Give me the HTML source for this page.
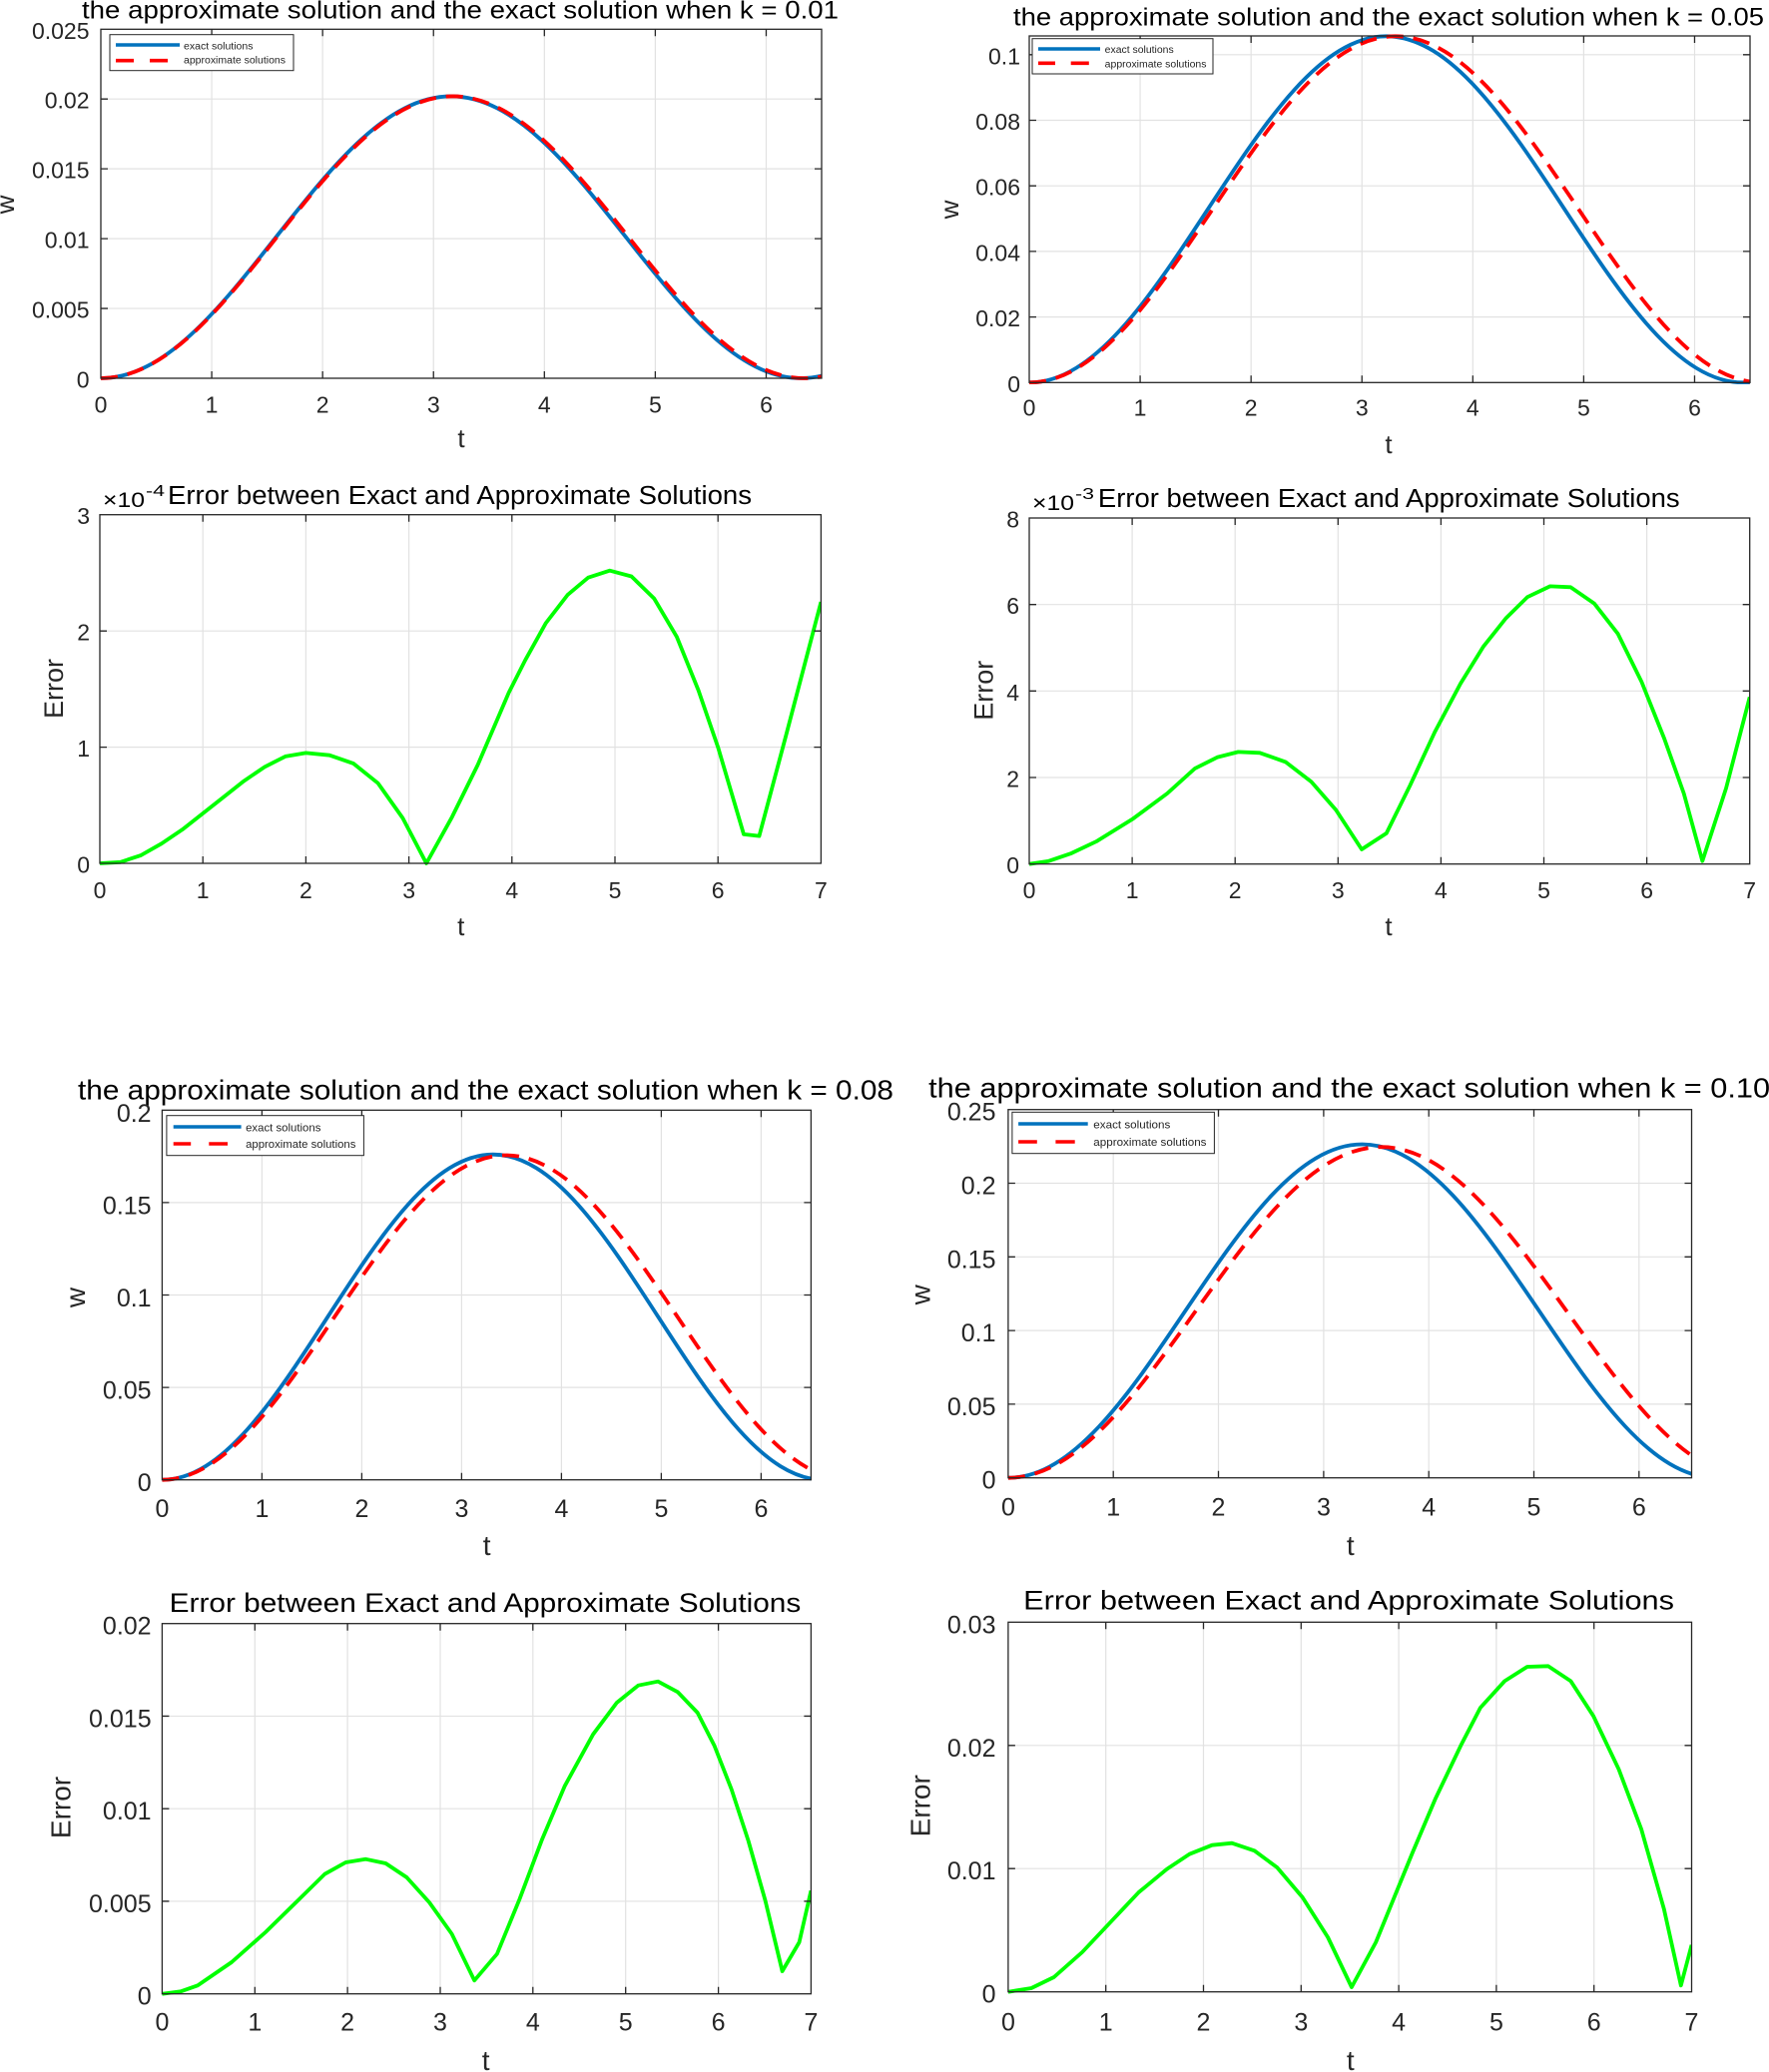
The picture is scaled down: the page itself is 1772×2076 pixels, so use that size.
<!DOCTYPE html>
<html><head><meta charset="utf-8"><style>
html,body{margin:0;padding:0;background:#fff}
svg{display:block}
text{font-family:"Liberation Sans",Arial,sans-serif;fill:#262626}
.ti{fill:#000}
.t22{font-size:23px}
.t24{font-size:25px}
.ax{fill:none;stroke:#262626;stroke-width:1.3}
.gr{fill:none;stroke:#e2e2e2;stroke-width:1.2}
.tk{fill:none;stroke:#262626;stroke-width:1.3}
.bl{fill:none;stroke:#0072bd;stroke-width:3.8;stroke-linejoin:round}
.rd{fill:none;stroke:#ff0000;stroke-width:3.8;stroke-dasharray:17 10}
.gn{fill:none;stroke:#00ff00;stroke-width:3.8;stroke-linejoin:round}
.lg{fill:#fff;stroke:#262626;stroke-width:1}
</style></head><body>
<svg width="1772" height="2076" viewBox="0 0 1772 2076" xmlns="http://www.w3.org/2000/svg">
<defs>
<clipPath id="cA"><rect x="101" y="27" width="722" height="354"/></clipPath>
<clipPath id="cB"><rect x="1031" y="34" width="722" height="351"/></clipPath>
<clipPath id="cC"><rect x="100" y="513" width="723" height="354"/></clipPath>
<clipPath id="cD"><rect x="1031" y="517" width="722" height="351"/></clipPath>
<clipPath id="cE"><rect x="162.4" y="1110" width="650" height="375"/></clipPath>
<clipPath id="cF"><rect x="1009.9" y="1109" width="684.6" height="374"/></clipPath>
<clipPath id="cG"><rect x="162.4" y="1624" width="650" height="376"/></clipPath>
<clipPath id="cH"><rect x="1009.9" y="1623" width="684.6" height="375"/></clipPath>
</defs>
<rect width="1772" height="2076" fill="#fff"/>

<!-- ============ PLOT A ============ -->
<path class="gr" d="M212.08,29.3V379M323.16,29.3V379M434.24,29.3V379M545.32,29.3V379M656.4,29.3V379M767.48,29.3V379M101,309.05H823M101,239.1H823M101,169.15H823M101,99.2H823"/>
<g clip-path="url(#cA)">
<path class="bl" d="M101,379 C164.47,379 219.17,310.1 276.36,237.72 C333.56,165.34 388.26,96.44 451.73,96.44 C515.2,96.44 569.9,165.34 627.09,237.72 C684.29,310.1 738.99,379 802.46,379 C865.92,379 920.63,310.1 977.82,237.72"/>
<path class="rd" d="M101,379 C164.79,379 219.76,310.1 277.24,237.72 C334.72,165.34 389.7,96.44 453.49,96.44 C517.27,96.44 572.25,165.34 629.73,237.72 C687.21,310.1 742.19,379 805.98,379 C869.76,379 924.74,310.1 982.22,237.72"/>
</g>
<rect class="ax" x="101" y="29.3" width="722" height="349.7"/>
<path class="tk" d="M212.08,379v-7M323.16,379v-7M434.24,379v-7M545.32,379v-7M656.4,379v-7M767.48,379v-7M212.08,29.3v7M323.16,29.3v7M434.24,29.3v7M545.32,29.3v7M656.4,29.3v7M767.48,29.3v7M101,309.05h7M101,239.1h7M101,169.15h7M101,99.2h7M823,309.05h-7M823,239.1h-7M823,169.15h-7M823,99.2h-7"/>
<text class="ti" x="82" y="18.3" font-size="25" textLength="758" lengthAdjust="spacingAndGlyphs">the approximate solution and the exact solution when k = 0.01</text>
<g class="t22" text-anchor="end">
<text x="89.5" y="388.5">0</text><text x="89.5" y="318.6">0.005</text><text x="89.5" y="248.6">0.01</text><text x="89.5" y="178.7">0.015</text><text x="89.5" y="108.7">0.02</text><text x="89.5" y="38.8">0.025</text>
</g>
<g class="t22" text-anchor="middle">
<text x="101" y="413.3">0</text><text x="212.08" y="413.3">1</text><text x="323.16" y="413.3">2</text><text x="434.24" y="413.3">3</text><text x="545.32" y="413.3">4</text><text x="656.4" y="413.3">5</text><text x="767.48" y="413.3">6</text>
</g>
<text x="462" y="448" font-size="26" text-anchor="middle">t</text>
<text transform="translate(14,205) rotate(-90)" font-size="26" text-anchor="middle">w</text>
<rect class="lg" x="110" y="34.7" width="184" height="36"/>
<path d="M116,45H180" stroke="#0072bd" stroke-width="3.6"/>
<path d="M116,60.7H134M150,60.7H168" stroke="#ff0000" stroke-width="3.6"/>
<text x="184" y="49.3" font-size="10" textLength="69.5" lengthAdjust="spacingAndGlyphs">exact solutions</text>
<text x="184" y="63.5" font-size="10" textLength="102" lengthAdjust="spacingAndGlyphs">approximate solutions</text>

<!-- ============ PLOT B ============ -->
<path class="gr" d="M1142.08,36V383.3M1253.16,36V383.3M1364.24,36V383.3M1475.32,36V383.3M1586.4,36V383.3M1697.48,36V383.3M1031,317.6H1753M1031,251.9H1753M1031,186.2H1753M1031,120.5H1753M1031,54.8H1753"/>
<g clip-path="url(#cB)">
<path class="bl" d="M1031,383.3 C1095.7,383.3 1151.47,298.68 1209.77,209.8 C1268.08,120.92 1323.85,36.3 1388.55,36.3 C1453.25,36.3 1509.02,120.92 1567.32,209.8 C1625.63,298.68 1681.39,383.3 1746.09,383.3 C1810.79,383.3 1866.56,298.68 1924.86,209.8"/>
<path class="rd" d="M1031,383.3 C1097.4,383.3 1154.63,298.68 1214.47,209.8 C1274.31,120.92 1331.54,36.3 1397.94,36.3 C1464.34,36.3 1521.57,120.92 1581.41,209.8 C1641.24,298.68 1698.48,383.3 1764.88,383.3"/>
</g>
<rect class="ax" x="1031" y="36" width="722" height="347.3"/>
<path class="tk" d="M1142.08,383.3v-7M1253.16,383.3v-7M1364.24,383.3v-7M1475.32,383.3v-7M1586.4,383.3v-7M1697.48,383.3v-7M1142.08,36v7M1253.16,36v7M1364.24,36v7M1475.32,36v7M1586.4,36v7M1697.48,36v7M1031,317.6h7M1031,251.9h7M1031,186.2h7M1031,120.5h7M1031,54.8h7M1753,317.6h-7M1753,251.9h-7M1753,186.2h-7M1753,120.5h-7M1753,54.8h-7"/>
<text class="ti" x="1015" y="25.7" font-size="25" textLength="752" lengthAdjust="spacingAndGlyphs">the approximate solution and the exact solution when k = 0.05</text>
<g class="t22" text-anchor="end">
<text x="1022" y="392.8">0</text><text x="1022" y="327.1">0.02</text><text x="1022" y="261.4">0.04</text><text x="1022" y="195.7">0.06</text><text x="1022" y="130">0.08</text><text x="1022" y="64.3">0.1</text>
</g>
<g class="t22" text-anchor="middle">
<text x="1031" y="416.7">0</text><text x="1142.08" y="416.7">1</text><text x="1253.16" y="416.7">2</text><text x="1364.24" y="416.7">3</text><text x="1475.32" y="416.7">4</text><text x="1586.4" y="416.7">5</text><text x="1697.48" y="416.7">6</text>
</g>
<text x="1391" y="454" font-size="26" text-anchor="middle">t</text>
<text transform="translate(960,210) rotate(-90)" font-size="26" text-anchor="middle">w</text>
<rect class="lg" x="1034" y="38.7" width="181" height="35.3"/>
<path d="M1040,49H1102" stroke="#0072bd" stroke-width="3.6"/>
<path d="M1040,63.3H1057M1072.7,63.3H1090.8" stroke="#ff0000" stroke-width="3.6"/>
<text x="1106.7" y="53" font-size="10" textLength="69" lengthAdjust="spacingAndGlyphs">exact solutions</text>
<text x="1106.7" y="67.3" font-size="10" textLength="101.8" lengthAdjust="spacingAndGlyphs">approximate solutions</text>

<!-- ============ PLOT C ============ -->
<path class="gr" d="M203.2,515.7V865M306.4,515.7V865M409.6,515.7V865M512.8,515.7V865M616,515.7V865M719.2,515.7V865M100,748.6H822.4M100,632.2H822.4"/>
<g clip-path="url(#cC)">
<polyline class="gn" points="100,865 120.6,863.8 141.3,856.9 161.9,845.2 182.6,831.2 203.2,815 223.8,798.7 244.5,782.4 265.1,768.4 285.8,757.9 306.4,754.4 330.1,756.7 353.9,764.9 378.6,784.7 403.4,819.6 427.1,865 452.9,818.4 478.7,766.1 509.7,693.9 526.2,661.3 546.9,624.1 568.5,596.1 589.2,578.7 610.8,571.7 632.5,577.5 655.2,599.6 677.9,638 699.6,691.6 719.2,748.6 745,835.9 760.5,837.6 787.3,737 822.4,603.1"/>
</g>
<rect class="ax" x="100" y="515.7" width="722.4" height="349.3"/>
<path class="tk" d="M203.2,865v-7M306.4,865v-7M409.6,865v-7M512.8,865v-7M616,865v-7M719.2,865v-7M203.2,515.7v7M306.4,515.7v7M409.6,515.7v7M512.8,515.7v7M616,515.7v7M719.2,515.7v7M100,748.6h7M100,632.2h7M822.4,748.6h-7M822.4,632.2h-7"/>
<text class="ti" x="103" y="508" font-size="21" textLength="42" lengthAdjust="spacingAndGlyphs">×10</text>
<text class="ti" x="146" y="497" font-size="16" textLength="19" lengthAdjust="spacingAndGlyphs">-4</text>
<text class="ti" x="168" y="505" font-size="25.5" textLength="585" lengthAdjust="spacingAndGlyphs">Error between Exact and Approximate Solutions</text>
<g class="t22" text-anchor="end">
<text x="90" y="874.5">0</text><text x="90" y="758.1">1</text><text x="90" y="641.7">2</text><text x="90" y="525.2">3</text>
</g>
<g class="t22" text-anchor="middle">
<text x="100" y="900">0</text><text x="203.2" y="900">1</text><text x="306.4" y="900">2</text><text x="409.6" y="900">3</text><text x="512.8" y="900">4</text><text x="616" y="900">5</text><text x="719.2" y="900">6</text><text x="822.4" y="900">7</text>
</g>
<text x="461.7" y="937" font-size="26" text-anchor="middle">t</text>
<text transform="translate(63,690) rotate(-90)" font-size="27" text-anchor="middle">Error</text>

<!-- ============ PLOT D ============ -->
<path class="gr" d="M1134.1,519V865.7M1237.2,519V865.7M1340.3,519V865.7M1443.4,519V865.7M1546.5,519V865.7M1649.6,519V865.7M1031,779H1752.7M1031,692.3H1752.7M1031,605.7H1752.7"/>
<g clip-path="url(#cD)">
<polyline class="gn" points="1031,865.7 1050.6,862.7 1073.3,854.9 1098,843.2 1135.1,820.2 1169.2,795 1197,769.9 1219.7,758.6 1240.3,753.4 1261.9,754.3 1287.7,763.4 1313.5,783.3 1338.2,811.5 1364,851 1388.8,834.9 1412.5,786.8 1437.2,733.5 1463,684.9 1485.7,648.1 1508.4,619.5 1530,598.2 1552.7,587.4 1573.3,588.3 1597,604.7 1620.7,635.1 1644.4,683.2 1667.1,740 1686.7,795 1705.3,862.7 1729,789.8 1752.7,698.4"/>
</g>
<rect class="ax" x="1031" y="519" width="721.7" height="346.7"/>
<path class="tk" d="M1134.1,865.7v-7M1237.2,865.7v-7M1340.3,865.7v-7M1443.4,865.7v-7M1546.5,865.7v-7M1649.6,865.7v-7M1134.1,519v7M1237.2,519v7M1340.3,519v7M1443.4,519v7M1546.5,519v7M1649.6,519v7M1031,779h7M1031,692.3h7M1031,605.7h7M1752.7,779h-7M1752.7,692.3h-7M1752.7,605.7h-7"/>
<text class="ti" x="1034" y="511" font-size="21" textLength="42" lengthAdjust="spacingAndGlyphs">×10</text>
<text class="ti" x="1077" y="500" font-size="16" textLength="19" lengthAdjust="spacingAndGlyphs">-3</text>
<text class="ti" x="1099.9" y="508" font-size="25.5" textLength="582.7" lengthAdjust="spacingAndGlyphs">Error between Exact and Approximate Solutions</text>
<g class="t22" text-anchor="end">
<text x="1021" y="875.2">0</text><text x="1021" y="788.5">2</text><text x="1021" y="701.8">4</text><text x="1021" y="615.2">6</text><text x="1021" y="528.5">8</text>
</g>
<g class="t22" text-anchor="middle">
<text x="1031" y="900">0</text><text x="1134.1" y="900">1</text><text x="1237.2" y="900">2</text><text x="1340.3" y="900">3</text><text x="1443.4" y="900">4</text><text x="1546.5" y="900">5</text><text x="1649.6" y="900">6</text><text x="1752.7" y="900">7</text>
</g>
<text x="1391" y="937" font-size="26" text-anchor="middle">t</text>
<text transform="translate(994.6,691.7) rotate(-90)" font-size="27" text-anchor="middle">Error</text>

<!-- ============ PLOT E ============ -->
<path class="gr" d="M262.4,1112.3V1482.7M362.4,1112.3V1482.7M462.4,1112.3V1482.7M562.4,1112.3V1482.7M662.4,1112.3V1482.7M762.4,1112.3V1482.7M162.4,1390.1H812.4M162.4,1297.5H812.4M162.4,1204.9H812.4"/>
<g clip-path="url(#cE)">
<path class="bl" d="M162.4,1482.7 C222.37,1482.7 274.06,1403.2 328.1,1319.7 C382.14,1236.2 433.84,1156.7 493.81,1156.7 C553.78,1156.7 605.47,1236.2 659.51,1319.7 C713.55,1403.2 765.24,1482.7 825.21,1482.7 C885.19,1482.7 936.88,1403.2 990.92,1319.7"/>
<path class="rd" d="M162.4,1482.7 C224.74,1482.7 278.46,1403.4 334.64,1320.1 C390.81,1236.8 444.54,1157.5 506.88,1157.5 C569.21,1157.5 622.94,1236.8 679.11,1320.1 C735.29,1403.4 789.02,1482.7 851.35,1482.7"/>
</g>
<rect class="ax" x="162.4" y="1112.3" width="650" height="370.4"/>
<path class="tk" d="M262.4,1482.7v-7M362.4,1482.7v-7M462.4,1482.7v-7M562.4,1482.7v-7M662.4,1482.7v-7M762.4,1482.7v-7M262.4,1112.3v7M362.4,1112.3v7M462.4,1112.3v7M562.4,1112.3v7M662.4,1112.3v7M762.4,1112.3v7M162.4,1390.1h7M162.4,1297.5h7M162.4,1204.9h7M812.4,1390.1h-7M812.4,1297.5h-7M812.4,1204.9h-7"/>
<text class="ti" x="78" y="1101.7" font-size="28" textLength="817" lengthAdjust="spacingAndGlyphs">the approximate solution and the exact solution when k = 0.08</text>
<g class="t24" text-anchor="end">
<text x="151.6" y="1494.2">0</text><text x="151.6" y="1401.6">0.05</text><text x="151.6" y="1309">0.1</text><text x="151.6" y="1216.4">0.15</text><text x="151.6" y="1123.8">0.2</text>
</g>
<g class="t24" text-anchor="middle">
<text x="162.4" y="1520">0</text><text x="262.4" y="1520">1</text><text x="362.4" y="1520">2</text><text x="462.4" y="1520">3</text><text x="562.4" y="1520">4</text><text x="662.4" y="1520">5</text><text x="762.4" y="1520">6</text>
</g>
<text x="487.7" y="1558" font-size="28" text-anchor="middle">t</text>
<text transform="translate(85,1300) rotate(-90)" font-size="28" text-anchor="middle">w</text>
<rect class="lg" x="166.9" y="1117.7" width="197.5" height="40"/>
<path d="M173.7,1129H241.6" stroke="#0072bd" stroke-width="3.6"/>
<path d="M173.7,1146H191.2M209.3,1146H228" stroke="#ff0000" stroke-width="3.6"/>
<text x="246.1" y="1133.5" font-size="11" textLength="75.3" lengthAdjust="spacingAndGlyphs">exact solutions</text>
<text x="246.1" y="1150" font-size="11" textLength="110.3" lengthAdjust="spacingAndGlyphs">approximate solutions</text>

<!-- ============ PLOT F ============ -->
<path class="gr" d="M1115.2,1111.7V1480.7M1220.5,1111.7V1480.7M1325.9,1111.7V1480.7M1431.2,1111.7V1480.7M1536.5,1111.7V1480.7M1641.8,1111.7V1480.7M1009.9,1406.9H1694.5M1009.9,1333.1H1694.5M1009.9,1259.3H1694.5M1009.9,1185.5H1694.5"/>
<g clip-path="url(#cF)">
<path class="bl" d="M1009.9,1480.7 C1074.07,1480.7 1129.38,1399.2 1187.21,1313.6 C1245.04,1228 1300.35,1146.5 1364.52,1146.5 C1428.7,1146.5 1484.01,1228 1541.84,1313.6 C1599.66,1399.2 1654.97,1480.7 1719.15,1480.7"/>
<path class="rd" d="M1009.9,1480.7 C1077.5,1480.7 1135.77,1399.86 1196.69,1314.95 C1257.6,1230.03 1315.87,1149.2 1383.47,1149.2 C1451.07,1149.2 1509.33,1230.03 1570.25,1314.95 C1631.17,1399.86 1689.44,1480.7 1757.04,1480.7"/>
</g>
<rect class="ax" x="1009.9" y="1111.7" width="684.6" height="369"/>
<path class="tk" d="M1115.2,1480.7v-7M1220.5,1480.7v-7M1325.9,1480.7v-7M1431.2,1480.7v-7M1536.5,1480.7v-7M1641.8,1480.7v-7M1115.2,1111.7v7M1220.5,1111.7v7M1325.9,1111.7v7M1431.2,1111.7v7M1536.5,1111.7v7M1641.8,1111.7v7M1009.9,1406.9h7M1009.9,1333.1h7M1009.9,1259.3h7M1009.9,1185.5h7M1694.5,1406.9h-7M1694.5,1333.1h-7M1694.5,1259.3h-7M1694.5,1185.5h-7"/>
<text class="ti" x="930.1" y="1099.3" font-size="28" textLength="843" lengthAdjust="spacingAndGlyphs">the approximate solution and the exact solution when k = 0.10</text>
<g class="t24" text-anchor="end">
<text x="997.5" y="1491.7">0</text><text x="997.5" y="1417.9">0.05</text><text x="997.5" y="1344.1">0.1</text><text x="997.5" y="1270.3">0.15</text><text x="997.5" y="1196.5">0.2</text><text x="997.5" y="1122.7">0.25</text>
</g>
<g class="t24" text-anchor="middle">
<text x="1009.9" y="1518.3">0</text><text x="1115.2" y="1518.3">1</text><text x="1220.5" y="1518.3">2</text><text x="1325.9" y="1518.3">3</text><text x="1431.2" y="1518.3">4</text><text x="1536.5" y="1518.3">5</text><text x="1641.8" y="1518.3">6</text>
</g>
<text x="1352.8" y="1558" font-size="28" text-anchor="middle">t</text>
<text transform="translate(931.3,1297.3) rotate(-90)" font-size="28" text-anchor="middle">w</text>
<rect class="lg" x="1013.9" y="1114.3" width="202.5" height="41.4"/>
<path d="M1020.1,1126H1089.7" stroke="#0072bd" stroke-width="3.6"/>
<path d="M1020.1,1144H1038.8M1057.4,1144H1076.7" stroke="#ff0000" stroke-width="3.6"/>
<text x="1095.3" y="1130.5" font-size="11" textLength="77" lengthAdjust="spacingAndGlyphs">exact solutions</text>
<text x="1095.3" y="1148" font-size="11" textLength="113.2" lengthAdjust="spacingAndGlyphs">approximate solutions</text>

<!-- ============ PLOT G ============ -->
<path class="gr" d="M255.3,1626.7V1997.7M348.1,1626.7V1997.7M441,1626.7V1997.7M533.8,1626.7V1997.7M626.7,1626.7V1997.7M719.6,1626.7V1997.7M162.4,1904.95H812.4M162.4,1812.2H812.4M162.4,1719.45H812.4"/>
<g clip-path="url(#cG)">
<polyline class="gn" points="162.4,1997.7 181,1995.3 198,1989.3 232,1966 265.9,1936 299.9,1902.7 325.3,1877.7 346.3,1866 366.1,1862.7 386.4,1867 407.4,1881 430,1906 452.6,1937.7 475.2,1984.3 497.9,1957.7 520.5,1902.7 543.1,1842.7 565.8,1789.3 594.1,1737.7 617.8,1706 639.3,1688.7 659.1,1684.7 678.9,1695.3 698.7,1716 715.7,1749.3 732.7,1792.7 749.6,1844.3 766.6,1904.3 783.6,1975 800.6,1946 812.4,1894.3"/>
</g>
<rect class="ax" x="162.4" y="1626.7" width="650" height="371"/>
<path class="tk" d="M255.3,1997.7v-7M348.1,1997.7v-7M441,1997.7v-7M533.8,1997.7v-7M626.7,1997.7v-7M719.6,1997.7v-7M255.3,1626.7v7M348.1,1626.7v7M441,1626.7v7M533.8,1626.7v7M626.7,1626.7v7M719.6,1626.7v7M162.4,1904.95h7M162.4,1812.2h7M162.4,1719.45h7M812.4,1904.95h-7M812.4,1812.2h-7M812.4,1719.45h-7"/>
<text class="ti" x="169.7" y="1615" font-size="27" textLength="632.6" lengthAdjust="spacingAndGlyphs">Error between Exact and Approximate Solutions</text>
<g class="t24" text-anchor="end">
<text x="151.6" y="2008.7">0</text><text x="151.6" y="1916">0.005</text><text x="151.6" y="1823.2">0.01</text><text x="151.6" y="1730.5">0.015</text><text x="151.6" y="1637.7">0.02</text>
</g>
<g class="t24" text-anchor="middle">
<text x="162.4" y="2034.3">0</text><text x="255.3" y="2034.3">1</text><text x="348.1" y="2034.3">2</text><text x="441" y="2034.3">3</text><text x="533.8" y="2034.3">4</text><text x="626.7" y="2034.3">5</text><text x="719.6" y="2034.3">6</text><text x="812.4" y="2034.3">7</text>
</g>
<text x="486.6" y="2074" font-size="28" text-anchor="middle">t</text>
<text transform="translate(70.7,1811) rotate(-90)" font-size="28" text-anchor="middle">Error</text>

<!-- ============ PLOT H ============ -->
<path class="gr" d="M1107.7,1625.3V1995.7M1205.5,1625.3V1995.7M1303.3,1625.3V1995.7M1401.1,1625.3V1995.7M1498.9,1625.3V1995.7M1596.7,1625.3V1995.7M1009.9,1872.2H1694.5M1009.9,1748.8H1694.5"/>
<g clip-path="url(#cH)">
<polyline class="gn" points="1009.9,1995.7 1033.1,1992 1055.7,1981 1084,1956 1112.3,1926 1140.6,1896 1168.9,1872.7 1191.5,1857.7 1214.1,1848.7 1234,1846.7 1256.6,1854.3 1279.2,1871 1304.7,1901 1330.1,1941 1353.9,1991 1378.2,1946 1415,1856 1437.6,1802.7 1463.1,1749.3 1482.9,1711 1507.2,1684.3 1529.8,1670 1550.8,1669.3 1573.4,1684.3 1596.1,1719.3 1621.5,1772.7 1644.1,1832.7 1666.8,1912.7 1683.8,1989.3 1694.5,1948.7"/>
</g>
<rect class="ax" x="1009.9" y="1625.3" width="684.6" height="370.4"/>
<path class="tk" d="M1107.7,1995.7v-7M1205.5,1995.7v-7M1303.3,1995.7v-7M1401.1,1995.7v-7M1498.9,1995.7v-7M1596.7,1995.7v-7M1107.7,1625.3v7M1205.5,1625.3v7M1303.3,1625.3v7M1401.1,1625.3v7M1498.9,1625.3v7M1596.7,1625.3v7M1009.9,1872.2h7M1009.9,1748.8h7M1694.5,1872.2h-7M1694.5,1748.8h-7"/>
<text class="ti" x="1025.2" y="1612.7" font-size="27" textLength="651.8" lengthAdjust="spacingAndGlyphs">Error between Exact and Approximate Solutions</text>
<g class="t24" text-anchor="end">
<text x="997.5" y="2006.7">0</text><text x="997.5" y="1883.2">0.01</text><text x="997.5" y="1759.8">0.02</text><text x="997.5" y="1636.3">0.03</text>
</g>
<g class="t24" text-anchor="middle">
<text x="1009.9" y="2034.3">0</text><text x="1107.7" y="2034.3">1</text><text x="1205.5" y="2034.3">2</text><text x="1303.3" y="2034.3">3</text><text x="1401.1" y="2034.3">4</text><text x="1498.9" y="2034.3">5</text><text x="1596.7" y="2034.3">6</text><text x="1694.5" y="2034.3">7</text>
</g>
<text x="1352.8" y="2074" font-size="28" text-anchor="middle">t</text>
<text transform="translate(931.3,1809.3) rotate(-90)" font-size="28" text-anchor="middle">Error</text>
</svg>
</body></html>
